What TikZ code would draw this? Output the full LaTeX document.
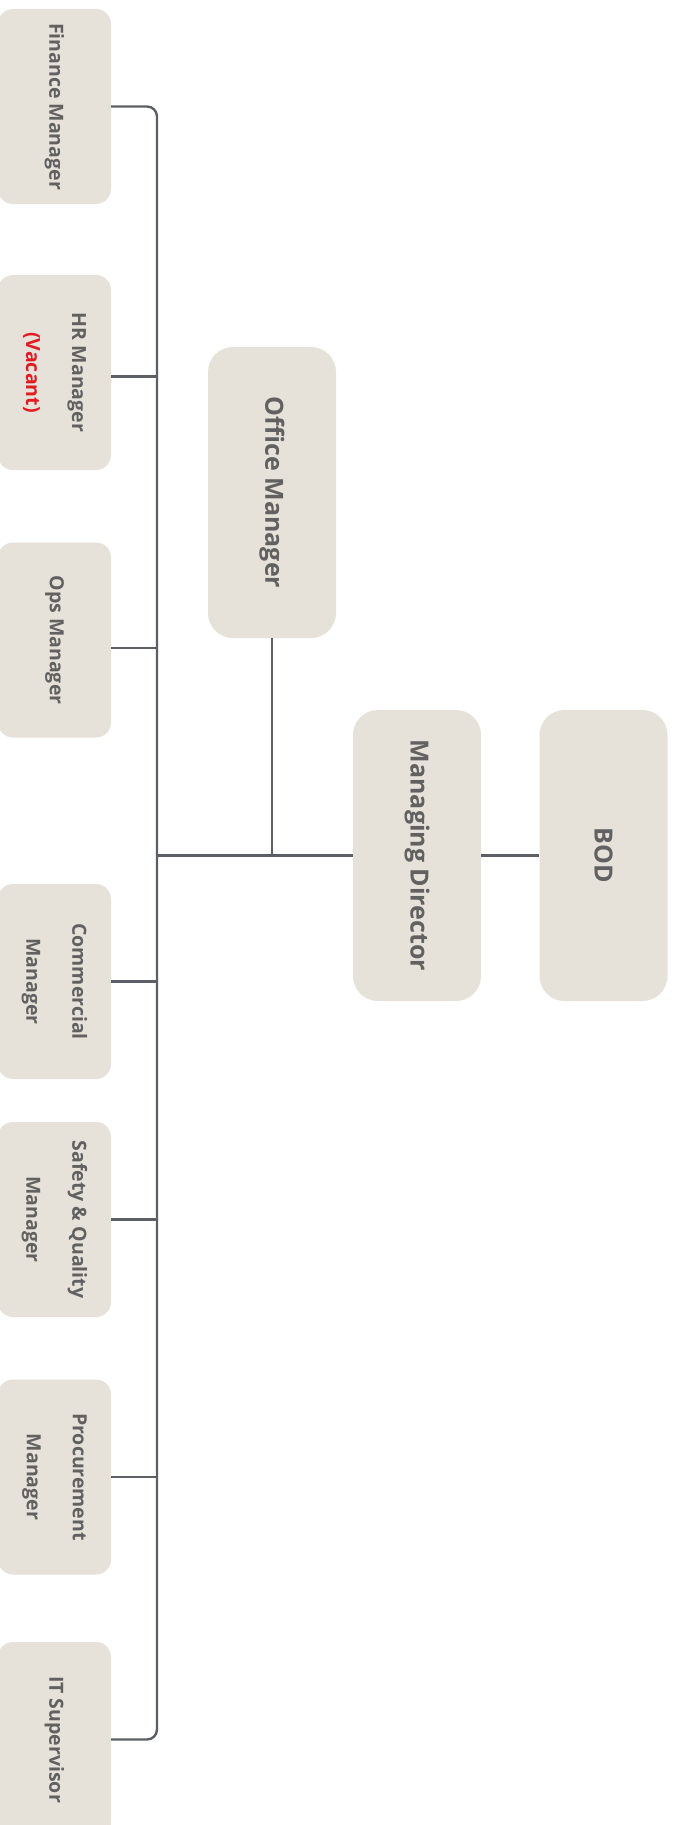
\documentclass[tikz,border=0pt]{standalone}
\usepackage{fontspec}
\setmainfont{Open Sans}
\usetikzlibrary{positioning}
\definecolor{cBox}{RGB}{230,225,217}
\definecolor{cTxt}{RGB}{97,97,97}
\definecolor{cLine}{RGB}{92,96,102}
\definecolor{cVac}{RGB}{226,27,35}

\begin{document}
\begin{tikzpicture}[x=1pt, y=-1pt,
      unit/.style={fill=cBox, rounded corners=15pt, rotate=-90, inner sep=0pt,
                   minimum width=195pt, minimum height=113pt, align=center,
                   text=cTxt, font=\bfseries\fontsize{19.5}{46}\selectfont},
      head/.style={unit, rounded corners=25pt, minimum width=291pt, minimum height=128pt,
                   font=\bfseries\fontsize{25}{30}\selectfont},
      link/.style={draw=cLine, line width=2.4pt}
    ]
    \useasboundingbox (0,0) rectangle (674,1825);

    % top of the chart
    \node[head] (bod) at (603.5,855.5) {BOD};
    \node[head] (md) at (417,855.5) {Managing Director};
    \node[head] (off) at (272,492.5) {Office Manager};

    % managers
    \node[unit] (fin) at (54.5,106.5) {Finance Manager};
    \node[unit] (hr) at (54.5,372.5) {HR Manager\\\textcolor{cVac}{(Vacant)}};
    \node[unit] (ops) at (54.5,640) {Ops Manager};
    \node[unit] (com) at (54.5,981.5) {Commercial\\Manager};
    \node[unit] (saf) at (54.5,1219.5) {Safety \& Quality\\Manager};
    \node[unit] (pro) at (54.5,1477) {Procurement\\Manager};
    \node[unit] (it) at (54.5,1739.5) {IT Supervisor};

    \coordinate (spine) at (157,855.5);

    \draw[link] (md.north) -- (bod.south);
    \draw[link] (md.south) -- (spine);
    \draw[link] (off.east) -- (off.east |- md.south);

    % spine with rounded ends
    \draw[link, rounded corners=10pt] (fin.north) -| (spine) |- (it.north);
    \draw[link] ([yshift=-4pt]hr.north) -- ([yshift=-4pt]hr.north -| spine);
    \draw[link] ([yshift=-8pt]ops.north) -- ([yshift=-8pt]ops.north -| spine);
    \foreach \n in {com,saf,pro}
      \draw[link] (\n.north) -- (\n.north -| spine);
  \end{tikzpicture}
\end{document}
